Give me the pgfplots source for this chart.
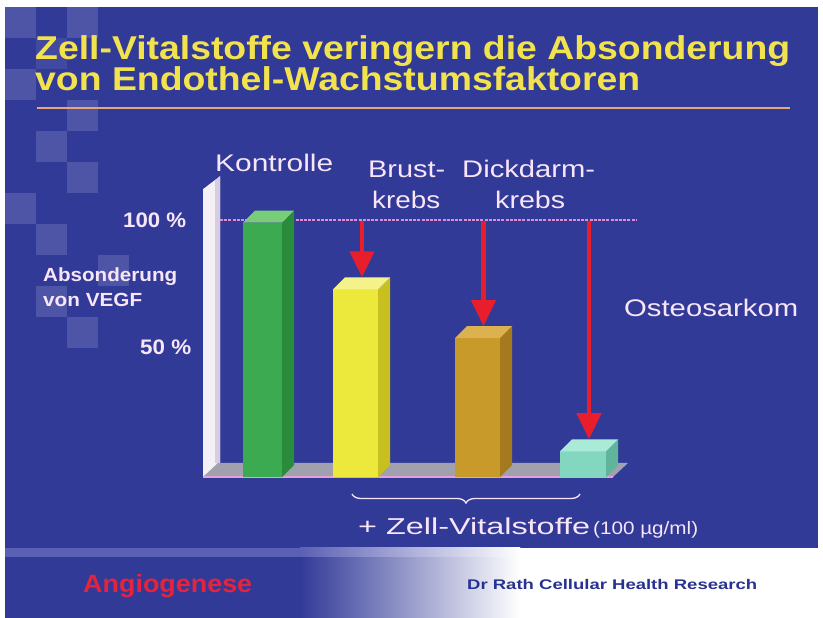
\documentclass[border=0pt]{standalone}
\usepackage{pgfplots}
\pgfplotsset{compat=1.18}
\usepackage{fontspec}
\setmainfont{Liberation Sans}
\usepackage{graphicx}
\usetikzlibrary{arrows.meta,decorations.pathreplacing}

\definecolor{bg}{RGB}{50,58,152}
\definecolor{tyellow}{RGB}{242,226,78}
\definecolor{uline}{RGB}{232,165,120}
\definecolor{labelc}{RGB}{248,230,248}
\definecolor{dotpink}{RGB}{225,140,210}
\definecolor{arrowred}{RGB}{232,30,45}
\definecolor{gfront}{RGB}{60,170,80}
\definecolor{gside}{RGB}{40,140,60}
\definecolor{gtop}{RGB}{120,205,120}
\definecolor{yfront}{RGB}{236,232,60}
\definecolor{yside}{RGB}{200,192,30}
\definecolor{ytop}{RGB}{245,242,140}
\definecolor{ofront}{RGB}{200,154,42}
\definecolor{oside}{RGB}{165,122,30}
\definecolor{otop}{RGB}{220,178,80}
\definecolor{tfront}{RGB}{130,215,190}
\definecolor{tside}{RGB}{95,180,155}
\definecolor{ttop}{RGB}{170,235,215}
\definecolor{floorg}{RGB}{160,160,175}
\definecolor{wallw}{RGB}{245,240,245}
\definecolor{walls}{RGB}{215,205,225}
\definecolor{pinkedge}{RGB}{230,160,215}
\definecolor{fstripe}{RGB}{90,96,180}
\definecolor{angred}{RGB}{230,35,60}
\definecolor{navy}{RGB}{40,50,145}

\newcommand{\fitw}[2]{\resizebox{#1}{\height}{#2}}

\begin{document}
\begin{tikzpicture}[x=1pt,y=1pt]
% background
\fill[white] (0,0) rectangle (823,618);
\fill[bg] (5,0) rectangle (818,611);
% checker squares
\foreach \c/\r/\o in {0/0/.14,2/0/.14,1/1/.08,0/2/.14,2/3/.14,1/4/.14,2/5/.14,0/6/.14,1/7/.14,3/8/.14,1/9/.14,2/10/.14}
  {\fill[white,opacity=\o] ({5+31*\c},{611-31*\r}) rectangle ++(31,-31);}
% footer
\fill[bg] (5,0) rectangle (300,70);
\shade[left color=bg,right color=white] (300,0) rectangle (520,70);
\fill[white] (520,0) rectangle (818,70);
\fill[fstripe] (5,61) rectangle (300,70);
\shade[left color=fstripe,right color=white] (300,61) rectangle (520,70);
% title underline
\draw[uline,line width=2.5pt] (37,510) -- (790,510);

\begin{axis}[at={(0,0)},anchor=south west,scale only axis,
  width=823pt,height=618pt,xmin=0,xmax=823,ymin=-54.86,ymax=185.60,
  hide axis,clip=false]
% back wall
\addplot[fill=wallw,draw=none] coordinates {(203,0) (203,112) (220,117) (220,5.45)} -- cycle;
\addplot[fill=walls,draw=none] coordinates {(215,5.45) (215,115.5) (220,117) (220,5.45)} -- cycle;
% floor
\addplot[fill=floorg,draw=none] coordinates {(203,0) (613,0) (628,5.45) (218,5.45)} -- cycle;
\addplot[pinkedge,line width=1.2pt] coordinates {(203,0) (613,0)};
% 100 % reference line
\addplot[dotpink,line width=1.5pt,dash pattern=on 3pt off 1.2pt] coordinates {(220,100) (637,100)};
% Kontrolle (99 %)
\addplot[ybar,bar width=39,bar shift=0pt,fill=gfront,draw=none] coordinates {(262.5,99)};
\addplot[fill=gside,draw=none] coordinates {(282,0) (282,99) (294,103.67) (294,4.67)} -- cycle;
\addplot[fill=gtop,draw=none] coordinates {(243,99) (282,99) (294,103.67) (255,103.67)} -- cycle;
% Brustkrebs (73 %)
\addplot[ybar,bar width=45,bar shift=0pt,fill=yfront,draw=none] coordinates {(355.5,73)};
\addplot[fill=yside,draw=none] coordinates {(378,0) (378,73) (390,77.67) (390,4.67)} -- cycle;
\addplot[fill=ytop,draw=none] coordinates {(333,73) (378,73) (390,77.67) (345,77.67)} -- cycle;
% Dickdarmkrebs (54 %)
\addplot[ybar,bar width=45,bar shift=0pt,fill=ofront,draw=none] coordinates {(477.5,54)};
\addplot[fill=oside,draw=none] coordinates {(500,0) (500,54) (512,58.67) (512,4.67)} -- cycle;
\addplot[fill=otop,draw=none] coordinates {(455,54) (500,54) (512,58.67) (467,58.67)} -- cycle;
% Osteosarkom (10 %)
\addplot[ybar,bar width=46,bar shift=0pt,fill=tfront,draw=none] coordinates {(583,10)};
\addplot[fill=tside,draw=none] coordinates {(606,0) (606,10) (618,14.67) (618,4.67)} -- cycle;
\addplot[fill=ttop,draw=none] coordinates {(560,10) (606,10) (618,14.67) (572,14.67)} -- cycle;
% arrows
\addplot[arrowred,line width=4.5pt,-{Triangle[width=24pt,length=26pt]}] coordinates {(362,99.5) (362,77.7)};
\addplot[arrowred,line width=4.5pt,-{Triangle[width=24pt,length=26pt]}] coordinates {(483.5,99.5) (483.5,58.7)};
\addplot[arrowred,line width=4.5pt,-{Triangle[width=24pt,length=26pt]}] coordinates {(589,99.5) (589,14.7)};
\end{axis}

% title
\node[anchor=base west,inner sep=0,text=tyellow] at (35,558) {\fontsize{33}{33}\selectfont\bfseries\fitw{755pt}{Zell-Vitalstoffe veringern die Absonderung}};
\node[anchor=base west,inner sep=0,text=tyellow] at (35,527) {\fontsize{33}{33}\selectfont\bfseries\fitw{605pt}{von Endothel-Wachstumsfaktoren}};

% category labels
\node[anchor=base west,inner sep=0,text=labelc] at (215,446) {\fontsize{24}{24}\selectfont\fitw{118pt}{Kontrolle}};
\node[anchor=base west,inner sep=0,text=labelc] at (368,440) {\fontsize{24}{24}\selectfont\fitw{77pt}{Brust-}};
\node[anchor=base west,inner sep=0,text=labelc] at (372,409) {\fontsize{24}{24}\selectfont\fitw{68pt}{krebs}};
\node[anchor=base west,inner sep=0,text=labelc] at (462,440) {\fontsize{24}{24}\selectfont\fitw{133pt}{Dickdarm-}};
\node[anchor=base west,inner sep=0,text=labelc] at (495,409) {\fontsize{24}{24}\selectfont\fitw{70pt}{krebs}};
\node[anchor=base west,inner sep=0,text=labelc] at (624,301) {\fontsize{24}{24}\selectfont\fitw{174pt}{Osteosarkom}};

% y labels
\node[anchor=base west,inner sep=0,text=labelc] at (43,336) {\fontsize{19}{19}\selectfont\bfseries\fitw{134pt}{Absonderung}};
\node[anchor=base west,inner sep=0,text=labelc] at (43,311) {\fontsize{19}{19}\selectfont\bfseries\fitw{99pt}{von VEGF}};
\node[anchor=base west,inner sep=0,text=labelc] at (123,390) {\fontsize{21}{21}\selectfont\bfseries\fitw{63pt}{100 \%}};
\node[anchor=base west,inner sep=0,text=labelc] at (140,263) {\fontsize{21}{21}\selectfont\bfseries\fitw{51pt}{50 \%}};

% brace and treatment label
\draw[labelc,line width=1.3pt,decorate,decoration={brace,mirror,amplitude=9pt}] (352,124) -- (580,124);
\node[anchor=base west,inner sep=0,text=labelc] at (358,83) {\fontsize{23}{23}\selectfont\fitw{232pt}{+ Zell-Vitalstoffe}};
\node[anchor=base west,inner sep=0,text=labelc] at (593,83) {\fontsize{18}{18}\selectfont\fitw{105pt}{(100 µg/ml)}};

% footer texts
\node[anchor=base west,inner sep=0,text=angred] at (83,25) {\fontsize{25}{25}\selectfont\bfseries\fitw{169pt}{Angiogenese}};
\node[anchor=base west,inner sep=0,text=navy] at (467,28) {\fontsize{14}{14}\selectfont\bfseries\fitw{290pt}{Dr Rath Cellular Health Research}};
\end{tikzpicture}
\end{document}
